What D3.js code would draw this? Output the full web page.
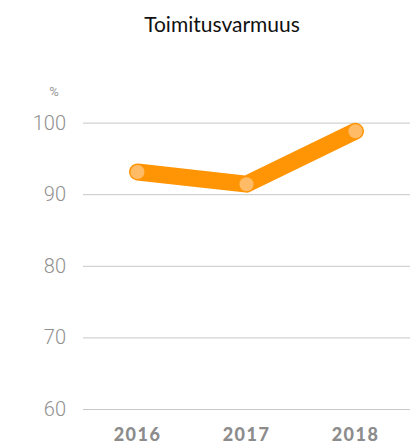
<!DOCTYPE html>
<html>
<head>
<meta charset="utf-8">
<script src="https://cdn.jsdelivr.net/npm/d3@7"></script>
<style>
  body { margin: 0; background: #fff; }
</style>
</head>
<body>
<div id="chart"></div>
<script>
var years = ["2016", "2017", "2018"];
var values = [93.1, 91.4, 98.8];
var yTicks = [60, 70, 80, 90, 100];

var width = 418, height = 446;

var svg = d3.select("#chart")
  .append("svg")
  .attr("width", width)
  .attr("height", height);

var x = d3.scaleBand().domain(years).range([83, 410]);
var y = d3.scaleLinear().domain([60, 100]).range([409, 122.6]);

svg.append("text")
  .attr("x", 222)
  .attr("y", 32)
  .attr("text-anchor", "middle")
  .style("font-family", "Lato, 'Open Sans', sans-serif")
  .style("font-size", "21px")
  .style("fill", "#111")
  .text("Toimitusvarmuus");

// y axis: gridlines + labels
var yAxis = svg.append("g")
  .attr("class", "y axis")
  .attr("transform", "translate(83,0)")
  .call(d3.axisLeft(y).tickValues(yTicks).tickSize(-327).tickPadding(17).tickFormat(d3.format("d")));

yAxis.select(".domain").remove();
yAxis.selectAll("line").attr("stroke", "#c8c8c8").attr("stroke-width", 1);
yAxis.selectAll("text")
  .style("font-family", "Roboto, sans-serif")
  .style("font-size", "20px")
  .style("font-weight", "300")
  .style("fill", "#8f8f8f");

svg.append("text")
  .attr("x", 54)
  .attr("y", 96)
  .attr("text-anchor", "middle")
  .style("font-family", "Roboto, sans-serif")
  .style("font-size", "13px")
  .style("fill", "#999")
  .text("%");

// x axis labels
var xAxis = svg.append("g")
  .attr("class", "x axis")
  .attr("transform", "translate(0,425)")
  .call(d3.axisBottom(x).tickSize(0).tickPadding(0));

xAxis.select(".domain").remove();
xAxis.selectAll("text")
  .attr("dy", "0.9em")
  .style("font-family", "Lato, sans-serif")
  .style("font-size", "18px")
  .style("font-weight", "900")
  .style("letter-spacing", "1.5px")
  .style("fill", "#8c8c8c");

var pts = years.map(function(d, i) { return { year: d, value: values[i] }; });

var line = d3.line()
  .x(function(d) { return x(d.year) + x.bandwidth() / 2; })
  .y(function(d) { return y(d.value); });

svg.append("path")
  .datum(pts)
  .attr("d", line)
  .attr("fill", "none")
  .attr("stroke", "#ff9505")
  .attr("stroke-width", 17)
  .attr("stroke-linecap", "round")
  .attr("stroke-linejoin", "round");

svg.selectAll(".dot")
  .data(pts)
  .enter()
  .append("circle")
  .attr("class", "dot")
  .attr("cx", function(d) { return x(d.year) + x.bandwidth() / 2; })
  .attr("cy", function(d) { return y(d.value); })
  .attr("r", 7)
  .attr("fill", "#ffbb66");
</script>
</body>
</html>
